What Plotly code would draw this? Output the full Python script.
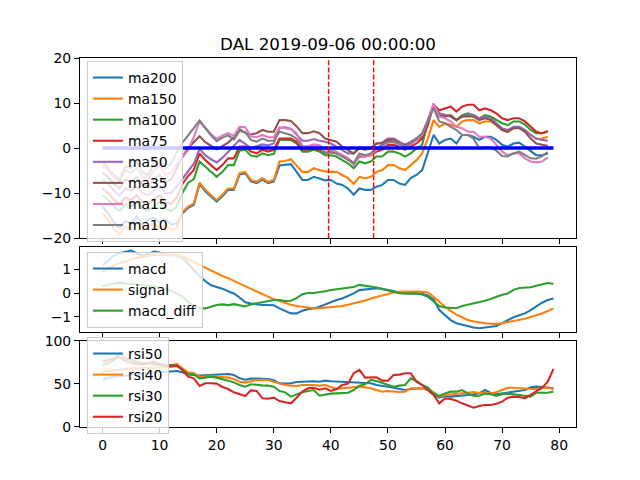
import plotly.graph_objects as go

title_text = "DAL 2019-09-06 00:00:00"

ma_names = ["ma200", "ma150", "ma100", "ma75", "ma50", "ma35", "ma15", "ma10"]

ma200 = [-13.0, -14.5, -16.5, -17.8, -16.2, -16.8, -15.2, -17.0, -16.0, -15.5, -16.5, -15.8, -17.0, -16.8,
         -14.5, -13.3, -12.6, -8.0, -9.6, -10.7, -11.9, -10.7, -9.3, -9.3, -5.9, -5.6, -7.4, -7.8, -7.0, -7.8,
         -7.4, -3.9, -3.8, -3.6, -5.3, -7.1, -7.1, -6.4, -6.8, -7.2, -7.1, -7.9, -8.2, -9.0, -10.4, -9.0, -9.3,
         -9.3, -8.6, -8.2, -7.1, -7.1, -7.9, -8.2, -6.7, -6.0, -4.9, -0.8, 2.9, 1.0, 1.8, 2.1, 1.0, 2.9, 2.9,
         2.5, 1.8, 2.5, 2.5, 1.8, 0.7, 0.3, 1.0, 1.2, 0.3, -0.8, -1.6, -1.6, -1.2]
ma150 = [-14.5, -16.0, -18.0, -19.2, -17.5, -18.0, -16.5, -18.2, -17.5, -16.8, -17.8, -17.0, -18.2, -17.8,
         -14.2, -13.0, -12.3, -7.7, -9.3, -10.4, -11.6, -10.4, -9.0, -9.0, -5.6, -5.3, -7.1, -7.5, -6.7, -7.5,
         -7.1, -3.0, -2.9, -2.5, -3.8, -5.3, -5.3, -4.5, -4.9, -5.2, -5.3, -5.3, -6.0, -6.7, -8.0, -6.4, -6.7,
         -6.4, -5.3, -4.9, -3.8, -3.8, -4.5, -4.9, -3.8, -2.7, -1.2, 2.1, 6.2, 4.7, 5.5, 5.1, 4.7, 5.9, 6.2,
         6.2, 5.5, 5.9, 5.9, 5.1, 4.0, 3.6, 4.4, 4.5, 4.0, 2.9, 2.0, 2.1, 2.5]
ma100 = [-10.5, -11.5, -13.0, -14.0, -12.5, -13.0, -12.0, -13.5, -14.0, -13.0, -12.0, -13.5, -14.0, -13.0,
         -10.0, -7.7, -6.9, -3.0, -4.2, -5.3, -6.4, -5.3, -3.8, -3.8, -0.6, -0.4, -1.7, -1.9, -1.2, -1.6,
         -1.3, 1.8, 1.8, 1.8, 1.0, -0.8, -0.8, -0.4, -0.8, -1.6, -1.6, -1.9, -2.7, -3.4, -4.5, -3.0, -3.4,
         -3.0, -1.9, -1.9, -0.8, -0.8, -1.2, -1.9, -1.2, -0.1, 0.7, 5.9, 9.6, 7.0, 7.3, 7.0, 6.2, 7.3, 7.7,
         7.3, 6.6, 7.3, 7.0, 6.2, 5.5, 5.1, 5.9, 5.9, 5.2, 4.0, 3.3, 3.3, 3.6]
ma75 = [-9.0, -10.0, -11.5, -12.5, -11.0, -11.5, -10.5, -12.0, -12.5, -11.5, -10.5, -12.0, -12.5, -11.0,
        -8.0, -6.2, -4.9, -1.2, -2.7, -3.8, -4.9, -3.8, -2.3, -2.3, 0.3, 0.3, -0.8, -1.2, -0.4, -0.8,
        -0.4, 2.1, 2.1, 2.1, 1.3, -0.4, -0.4, -0.1, -0.4, -1.0, -1.0, -1.2, -1.6, -2.3, -3.4, -1.9, -1.9,
        -1.6, -0.8, -0.4, 0.7, 0.7, 0.3, -0.4, 0.3, 1.0, 2.1, 5.1, 9.6, 8.4, 8.8, 9.2, 8.1, 9.2, 9.6,
        9.6, 8.4, 8.8, 8.4, 7.7, 6.6, 6.2, 6.6, 6.6, 5.9, 4.7, 3.6, 3.3, 3.8]
ma50 = [-7.0, -8.0, -9.5, -10.5, -9.0, -9.5, -8.5, -10.0, -10.5, -9.5, -8.5, -10.0, -10.0, -8.5,
        -6.8, -5.0, -3.5, -0.2, -1.6, -2.5, -3.2, -2.2, -0.8, 0.6, 1.8, 0.9, 0.0, 0.4, 0.8, 0.6,
        1.0, 4.5, 4.6, 4.3, 3.0, 1.6, 1.6, 2.0, 1.6, 1.4, 1.0, 0.3, -0.4, -1.2, -1.2, 0.2, -0.1,
        0.0, 1.0, 1.2, 2.1, 2.1, 1.4, 0.7, 1.4, 2.1, 2.9, 5.9, 9.7, 7.7, 7.3, 7.0, 6.2, 7.0, 7.3,
        7.3, 6.6, 7.0, 6.6, 5.5, 4.4, 4.0, 4.7, 4.7, 4.0, 2.9, 2.1, 1.8, 1.6]
ma35 = [-5.5, -6.5, -8.0, -9.0, -7.0, -7.5, -6.5, -8.0, -8.5, -7.0, -6.0, -7.5, -7.0, -4.5,
        -2.0, 0.0, 1.2, 2.6, 1.3, 0.5, -0.3, 0.4, 1.2, 2.4, 4.2, 3.3, 3.0, 3.3, 4.0, 3.6,
        3.6, 6.2, 6.2, 6.0, 4.8, 3.3, 3.3, 3.7, 3.3, 2.1, 1.8, 1.4, 0.3, -0.4, -1.2, -0.1, -0.4,
        -0.1, 1.0, 1.0, 1.8, 1.8, 1.0, 0.7, 1.0, 1.8, 2.5, 5.9, 9.6, 7.3, 7.0, 7.3, 6.2, 7.0, 7.0,
        7.0, 6.2, 6.6, 6.2, 5.1, 4.0, 3.6, 4.4, 4.4, 3.6, 2.1, 1.0, 0.7, 0.5]
ma15 = [-4.0, -5.0, -6.5, -7.5, -5.0, -5.5, -4.5, -6.5, -7.0, -5.0, -4.0, -6.0, -5.5, -3.5,
        -2.0, -0.5, 2.5, 5.9, 4.5, 3.1, 2.0, 2.8, 3.3, 2.7, 4.7, 4.6, 2.6, 2.4, 2.9, 2.4,
        2.4, 4.6, 4.4, 4.2, 3.3, 0.4, 0.4, 0.8, 0.6, -0.4, -0.4, -0.8, -1.6, -2.3, -3.8, -1.6, -1.9,
        -1.6, -0.4, 0.5, 1.2, 1.4, 0.8, 0.1, 0.8, 1.8, 2.9, 6.2, 9.9, 7.0, 6.6, 5.9, 4.7, 4.4, 3.6,
        3.6, 2.5, 2.5, 2.1, 0.7, -0.8, -1.6, -1.2, -1.2, -2.3, -3.0, -3.2, -3.0, -2.1]
ma10 = [-3.0, -4.5, -6.0, -7.0, -4.0, -4.5, -3.0, -5.5, -6.0, -3.5, -2.5, -4.5, -3.5, -1.0,
        1.2, 2.8, 4.4, 6.1, 4.4, 2.8, 1.5, 2.3, 2.8, 1.9, 3.8, 3.5, 1.8, 1.4, 2.1, 1.6,
        1.6, 3.6, 3.3, 2.9, 2.0, 0.0, 0.0, 0.3, 0.0, -1.2, -0.8, -1.2, -1.9, -2.7, -3.4, -1.2, -1.6,
        -1.2, -0.1, 0.7, 1.4, 1.3, 1.0, 0.3, 1.0, 2.1, 3.3, 6.2, 8.8, 5.9, 5.5, 4.7, 4.0, 2.9, 2.9,
        2.1, -0.1, 0.2, 0.1, -0.6, -1.8, -1.9, -1.2, -0.8, -1.6, -2.3, -2.4, -1.8, -0.9]

macd = [1.17, 1.37, 1.58, 1.68, 1.75, 1.79, 1.68, 1.58, 1.65, 1.75, 1.71, 1.62, 1.60, 1.58, 1.49, 1.24,
        0.99, 0.71, 0.51, 0.33, 0.26, 0.19, 0.08, -0.01, -0.18, -0.38, -0.43, -0.47, -0.50, -0.50, -0.51,
        -0.64, -0.75, -0.85, -0.85, -0.74, -0.67, -0.64, -0.57, -0.47, -0.38, -0.29, -0.22, -0.13, -0.01,
        0.13, 0.15, 0.18, 0.21, 0.18, 0.13, 0.06, 0.01, -0.01, -0.01, -0.01, -0.03, -0.10, -0.26, -0.71,
        -0.93, -1.13, -1.26, -1.33, -1.38, -1.44, -1.47, -1.44, -1.42, -1.38, -1.26, -1.13, -1.01, -0.93,
        -0.85, -0.71, -0.54, -0.40, -0.29, -0.22]
signal = [0.89, 1.03, 1.17, 1.26, 1.35, 1.42, 1.49, 1.54, 1.58, 1.61, 1.63, 1.63, 1.61, 1.60, 1.54, 1.44,
          1.31, 1.19, 1.07, 0.93, 0.82, 0.72, 0.63, 0.51, 0.40, 0.29, 0.18, 0.07, -0.04, -0.15, -0.25,
          -0.33, -0.42, -0.49, -0.54, -0.58, -0.61, -0.63, -0.63, -0.61, -0.60, -0.57, -0.54, -0.49, -0.43,
          -0.38, -0.31, -0.22, -0.15, -0.08, -0.01, 0.03, 0.06, 0.07, 0.07, 0.07, 0.06, 0.03, -0.15, -0.38,
          -0.57, -0.74, -0.90, -1.01, -1.13, -1.19, -1.24, -1.26, -1.28, -1.29, -1.26, -1.22, -1.18, -1.13,
          -1.07, -1.00, -0.93, -0.85, -0.75, -0.64]
macd_diff = [0.29, 0.36, 0.42, 0.44, 0.42, 0.39, 0.38, 0.35, 0.32, 0.29, 0.26, 0.19, 0.10, -0.01, -0.15,
             -0.36, -0.54, -0.64, -0.64, -0.57, -0.50, -0.47, -0.50, -0.46, -0.51, -0.56, -0.47, -0.42,
             -0.38, -0.32, -0.29, -0.29, -0.33, -0.32, -0.21, -0.04, 0.01, 0.01, 0.03, 0.08, 0.13, 0.17,
             0.19, 0.22, 0.26, 0.35, 0.32, 0.28, 0.24, 0.18, 0.13, 0.06, 0.00, -0.01, 0.01, 0.00, -0.06,
             -0.15, -0.35, -0.54, -0.60, -0.61, -0.63, -0.54, -0.49, -0.42, -0.38, -0.32, -0.24, -0.15,
             -0.07, -0.01, 0.14, 0.22, 0.22, 0.25, 0.31, 0.38, 0.43, 0.40]

rsi50 = [54.7, 57.4, 58.1, 58.9, 59.7, 61.2, 62.0, 62.8, 63.6, 63.6, 63.6, 64.0, 64.3, 65.1, 63.6, 61.2,
         60.5, 59.7, 60.1, 60.5, 61.2, 61.2, 61.6, 60.5, 56.6, 55.0, 56.2, 56.2, 56.2, 55.8, 54.3, 50.8,
         50.4, 50.8, 52.3, 52.7, 52.7, 53.1, 52.7, 53.9, 53.1, 52.7, 52.7, 52.3, 51.9, 51.6, 51.2, 50.8,
         48.8, 48.1, 46.9, 45.7, 44.2, 43.0, 44.2, 45.0, 45.0, 43.0, 38.0, 34.1, 36.0, 35.3, 35.7, 36.4,
         37.2, 38.0, 39.1, 43.0, 39.5, 38.0, 39.1, 40.3, 41.1, 42.2, 43.0, 46.1, 46.9, 46.5, 46.1, 45.0]
rsi40 = [64.3, 65.1, 66.3, 67.4, 68.2, 68.2, 68.2, 68.2, 68.2, 69.0, 69.0, 70.2, 72.1, 73.3, 68.2, 63.6,
         62.4, 58.5, 58.5, 59.3, 58.5, 57.8, 57.4, 55.8, 52.7, 51.6, 53.5, 54.7, 55.0, 54.7, 52.7, 50.4,
         48.8, 48.1, 47.7, 48.8, 49.2, 48.8, 48.1, 48.8, 46.5, 44.2, 45.0, 45.7, 46.9, 46.9, 46.1, 45.0,
         43.0, 41.1, 41.9, 41.1, 40.7, 41.1, 45.0, 45.0, 45.0, 44.2, 40.3, 35.3, 37.2, 38.0, 38.8, 39.5,
         40.3, 40.7, 39.5, 39.9, 39.1, 40.3, 43.0, 45.7, 45.7, 45.0, 44.6, 44.2, 44.2, 45.0, 46.1, 43.8]
rsi30 = [72.1, 74.0, 77.9, 85.7, 79.8, 77.9, 76.0, 74.0, 74.0, 73.3, 72.1, 71.3, 72.1, 71.3, 66.3, 61.2,
         61.2, 56.6, 57.4, 58.5, 57.4, 55.4, 53.9, 51.9, 48.8, 46.9, 49.6, 48.8, 48.4, 48.1, 46.9, 41.9,
         40.3, 35.3, 38.0, 40.3, 41.9, 43.0, 36.4, 38.0, 38.8, 39.1, 39.5, 39.9, 43.0, 48.1, 49.6, 54.7,
         53.5, 51.6, 49.6, 46.9, 48.1, 48.8, 56.6, 53.5, 48.8, 45.7, 39.1, 36.0, 39.1, 41.1, 41.1, 43.0,
         39.1, 36.0, 36.4, 38.8, 38.0, 36.0, 38.0, 38.8, 38.0, 37.2, 36.0, 35.3, 39.9, 39.9, 39.9, 41.1]
rsi20 = [76.0, 77.9, 79.1, 81.4, 76.7, 74.4, 72.9, 72.9, 74.4, 76.0, 72.9, 71.3, 70.2, 71.3, 66.3, 58.5,
         56.6, 47.7, 50.8, 50.8, 50.4, 46.5, 44.2, 40.3, 38.0, 36.0, 42.6, 41.9, 33.3, 32.9, 34.1, 30.2,
         28.7, 27.5, 34.1, 41.1, 45.0, 45.7, 43.4, 45.0, 41.9, 44.2, 48.8, 50.4, 62.4, 66.3, 57.4, 57.4,
         57.8, 53.9, 53.9, 60.5, 60.9, 62.4, 62.4, 52.7, 48.8, 43.0, 37.2, 27.5, 33.3, 32.6, 30.6, 27.5,
         24.8, 22.5, 24.4, 25.6, 25.6, 27.1, 29.5, 34.1, 35.3, 34.9, 33.3, 37.2, 41.9, 45.7, 52.7, 67.4]

event_x = [39.6, 47.5]
zero_level = 0.0

x_ticks = [0, 10, 20, 30, 40, 50, 60, 70, 80]
y1_ticks = [-20, -10, 0, 10, 20]
y2_ticks = [-1, 0, 1]
y3_ticks = [0, 50, 100]

tab10 = ["#1f77b4", "#ff7f0e", "#2ca02c", "#d62728", "#9467bd", "#8c564b", "#e377c2", "#7f7f7f"]
FONT = "DejaVu Sans"
LW = 2.08

fig = go.Figure()

ma_values = [ma200, ma150, ma100, ma75, ma50, ma35, ma15, ma10]
for name, vals, col in zip(ma_names, ma_values, tab10):
    fig.add_trace(go.Scatter(x=list(range(len(vals))), y=vals, mode="lines", name=name,
                             line=dict(color=col, width=LW), xaxis="x", yaxis="y", legend="legend"))

n_full = len(macd)
fig.add_trace(go.Scatter(x=[0, n_full - 1], y=[zero_level, zero_level], mode="lines",
                         line=dict(color="#0000ff", width=3.3), showlegend=False,
                         hoverinfo="skip", xaxis="x", yaxis="y"))

for name, vals, col in zip(["macd", "signal", "macd_diff"], [macd, signal, macd_diff], tab10):
    fig.add_trace(go.Scatter(x=list(range(len(vals))), y=vals, mode="lines", name=name,
                             line=dict(color=col, width=LW), xaxis="x2", yaxis="y2", legend="legend2"))

for name, vals, col in zip(["rsi50", "rsi40", "rsi30", "rsi20"], [rsi50, rsi40, rsi30, rsi20], tab10):
    fig.add_trace(go.Scatter(x=list(range(len(vals))), y=vals, mode="lines", name=name,
                             line=dict(color=col, width=LW), xaxis="x3", yaxis="y3", legend="legend3"))

for ex in event_x:
    fig.add_shape(type="line", xref="x", yref="y domain", x0=ex, x1=ex, y0=0, y1=1,
                  line=dict(color="red", width=1.4, dash="5px,2.2px"), layer="above")

axis_common = dict(showline=True, mirror=True, linecolor="black", linewidth=1.1,
                   ticks="outside", ticklen=5, tickwidth=1.1, tickcolor="black",
                   showgrid=False, zeroline=False, automargin=False,
                   tickfont=dict(family=FONT, size=13.9, color="black"))

xr = [-3.95, 82.95]
d1 = [0.5122, 1.0]
d2 = [0.2575, 0.4878]
d3 = [0.0, 0.2331]

legend_common = dict(bgcolor="rgba(255,255,255,0.8)", bordercolor="#cccccc", borderwidth=1,
                     font=dict(family=FONT, size=13.9, color="black"), xanchor="left",
                     yanchor="top", itemwidth=30, tracegroupgap=0)

fig.update_layout(
    template="none",
    width=640, height=480, autosize=False,
    margin=dict(l=80, r=64, t=58, b=53, autoexpand=False),
    paper_bgcolor="white", plot_bgcolor="white",
    font=dict(family=FONT, color="black"),
    title=dict(text=title_text, x=0.5, xref="paper", xanchor="center",
               y=1 - 44 / 480, yref="container", yanchor="middle", automargin=False,
               font=dict(family=FONT, size=16.7, color="black")),
    xaxis=dict(domain=[0, 1], anchor="y", range=xr, tickvals=x_ticks, showticklabels=False, **axis_common),
    yaxis=dict(domain=d1, anchor="x", range=[-20, 20], tickvals=y1_ticks, **axis_common),
    xaxis2=dict(domain=[0, 1], anchor="y2", range=xr, tickvals=x_ticks, showticklabels=False,
                matches="x", **axis_common),
    yaxis2=dict(domain=d2, anchor="x2", range=[-1.63, 1.94], tickvals=y2_ticks, **axis_common),
    xaxis3=dict(domain=[0, 1], anchor="y3", range=xr, tickvals=x_ticks, matches="x", **axis_common),
    yaxis3=dict(domain=d3, anchor="x3", range=[0, 100], tickvals=y3_ticks, **axis_common),
    legend=dict(x=0.014, y=0.9919, **legend_common),
    legend2=dict(x=0.014, y=0.4743, **legend_common),
    legend3=dict(x=0.014, y=0.2439, **legend_common),
    showlegend=True,
)

fig.write_html("out.html", config={"displayModeBar": False},
               post_script="document.body.style.margin='0';document.body.style.overflow='hidden';")
